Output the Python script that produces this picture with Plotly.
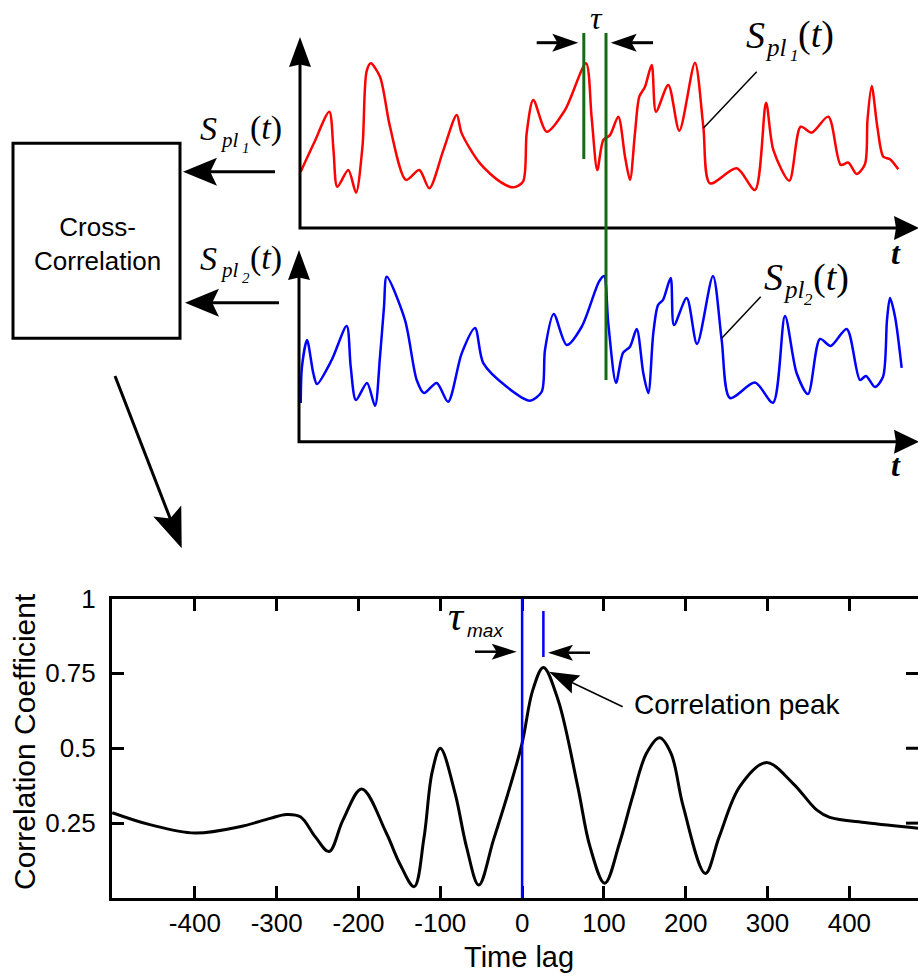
import math
import plotly.graph_objects as go

W, H = 918, 977

# ---- signal recorded at sensor 1 (red) ----
t1 = [0.12, 2.33, 4.88, 5.58, 6.22, 8.05, 9.33, 10.42, 11.08, 11.78, 13.33, 15.0, 17.67,
      19.88, 21.55, 23.9, 26.12, 26.95, 30.0, 33.33, 35.55, 37.17, 37.78, 38.88, 41.12,
      44.17, 47.67, 48.6, 49.55, 50.55, 51.67, 53.05, 54.17, 55.0, 55.83, 56.55, 57.5,
      58.62, 59.33, 61.38, 63.22, 65.83, 67.22, 68.33, 72.78, 75.83, 77.67, 78.9, 81.55,
      83.45, 85.28, 88.05, 90.12, 91.38, 92.78, 94.17, 94.58, 95.28, 96.22, 97.22, 98.33,
      99.72]
s1 = [2.96, 4.47, 6.12, 4.1, 2.17, 3.05, 1.86, 4.32, 8.21, 8.67, 7.96, 5.33, 2.53,
      3.05, 2.09, 4.1, 5.95, 4.98, 3.4, 2.44, 2.14, 2.44, 5.0, 6.74, 5.07,
      6.21, 8.67, 5.84, 3.05, 4.63, 4.89, 5.86, 3.75, 2.53, 5.0, 6.91, 7.44,
      8.58, 6.12, 7.53, 5.12, 8.7, 5.33, 2.35, 3.14, 2.0, 6.59, 4.1, 2.49,
      5.33, 5.02, 5.86, 3.32, 3.44, 2.84, 3.37, 5.68, 7.47, 5.33, 3.75, 3.62,
      3.09]

# ---- signal recorded at sensor 2 (blue) ----
t2 = [0.12, 0.33, 1.17, 2.22, 2.83, 5.28, 7.78, 8.45, 9.33, 11.17, 12.5, 13.33, 14.0,
      14.45, 17.5, 19.45, 20.67, 22.78, 24.67, 26.95, 29.17, 30.55, 34.45, 38.33, 40.28,
      40.83, 42.28, 44.45, 46.95, 49.83, 50.67, 51.38, 52.67, 53.83, 55.0, 56.12, 57.22,
      58.05, 58.88, 59.67, 60.5, 61.78, 62.33, 64.45, 66.17, 68.83, 70.28, 71.67, 75.83,
      78.83, 80.83, 82.78, 84.67, 86.67, 88.45, 91.12, 93.33, 94.33, 95.83, 97.17, 97.83,
      98.33, 99.17, 100.28]
s2 = [2.04, 3.95, 5.35, 3.6, 3.04, 4.3, 6.09, 3.95, 2.19, 3.09, 1.89, 4.47, 7.1,
      8.68, 6.4, 3.25, 2.56, 3.09, 2.1, 4.65, 5.98, 4.13, 2.89, 2.16, 2.63,
      4.83, 6.72, 5.09, 6.05, 8.42, 8.72, 6.23, 3.1, 4.67, 5.0, 5.93, 3.6,
      2.56, 5.7, 7.19, 7.46, 8.62, 6.14, 7.56, 5.14, 8.72, 5.35, 2.3, 3.11,
      2.05, 6.62, 3.6, 2.51, 5.41, 5.04, 5.93, 3.25, 3.46, 2.88, 3.42, 6.4,
      7.56, 6.58, 3.88]

# time instants marking the shift between the two signals
tau_marks = [47.3, 51.0]

# ---- cross-correlation coefficient versus time lag ----
lag = [-501, -455, -400, -345, -308, -288, -271, -253, -236, -219, -196, -166, -150,
       -132, -120, -110, -100, -82, -68, -53, -35, -15, 0, 13, 26, 44, 68, 83, 101,
       119, 135, 152, 168, 182, 197, 224, 241, 266, 298, 331, 360, 376, 421, 484]
corr = [0.285, 0.245, 0.217, 0.238, 0.266, 0.279, 0.271, 0.205, 0.155, 0.26, 0.364,
        0.217, 0.117, 0.038, 0.2, 0.42, 0.50, 0.35, 0.171, 0.043, 0.194, 0.37, 0.517,
        0.694, 0.770, 0.661, 0.372, 0.171, 0.049, 0.183, 0.338, 0.483, 0.535, 0.483,
        0.305, 0.082, 0.205, 0.372, 0.452, 0.383, 0.294, 0.269, 0.251, 0.233]

lag_ticks = [-400, -300, -200, -100, 0, 100, 200, 300, 400]
corr_ticks = [0.25, 0.5, 0.75, 1]
corr_tick_text = ["0.25", "0.5", "0.75", "1"]

peak_lag = lag[corr.index(max(corr))]

SANS = "Liberation Sans, Arial, sans-serif"
NARROW = "Liberation Sans Narrow, Arial Narrow, Liberation Sans, sans-serif"
SERIF = "Liberation Serif, Times New Roman, serif"


def X(px):
    return px / W


def Y(py):
    return 1 - py / H


def f(v):
    return f"{v:.5f}"


shapes = []
annotations = []


def seg(p0, p1, width=3, color="black"):
    shapes.append(dict(type="line", xref="paper", yref="paper",
                       x0=X(p0[0]), y0=Y(p0[1]), x1=X(p1[0]), y1=Y(p1[1]),
                       line=dict(color=color, width=width)))


def polyline(points, width=3, color="black"):
    d = "M " + " L ".join(f"{f(X(x))},{f(Y(y))}" for x, y in points)
    shapes.append(dict(type="path", xref="paper", yref="paper", path=d,
                       line=dict(color=color, width=width),
                       fillcolor="rgba(0,0,0,0)"))


def arrow(tail, tip, head_len, half_w, width=3, notch=0.15, color="black", draw_shaft=True):
    x0, y0 = tail
    x1, y1 = tip
    dx, dy = x1 - x0, y1 - y0
    n = math.hypot(dx, dy)
    ux, uy = dx / n, dy / n
    vx, vy = -uy, ux
    bx, by = x1 - ux * head_len, y1 - uy * head_len
    nx, ny = bx + ux * head_len * notch, by + uy * head_len * notch
    if draw_shaft:
        seg((x0, y0), (nx + ux * 2, ny + uy * 2), width=width, color=color)
    pts = [(x1, y1), (bx + vx * half_w, by + vy * half_w), (nx, ny),
           (bx - vx * half_w, by - vy * half_w)]
    d = "M " + " L ".join(f"{f(X(x))},{f(Y(y))}" for x, y in pts) + " Z"
    shapes.append(dict(type="path", xref="paper", yref="paper", path=d,
                       fillcolor=color, line=dict(width=0)))


def text(s, x, y, size, family=SANS, xanchor="center", yanchor="middle", angle=0,
         color="black"):
    annotations.append(dict(text=s, x=X(x), y=Y(y), xref="paper", yref="paper",
                            xanchor=xanchor, yanchor=yanchor, showarrow=False,
                            textangle=angle, borderpad=0,
                            font=dict(family=family, size=size, color=color)))


def sig_label(x_s, y_s, size, x_sub, y_sub, sub_size, x_idx, y_idx, idx_size, idx,
              x_par):
    text("<i>S</i>", x_s, y_s, size, SERIF, xanchor="left")
    text("<i>pl</i>", x_sub, y_sub, sub_size, SERIF, xanchor="left")
    text(f"<i>{idx}</i>", x_idx, y_idx, idx_size, SERIF, xanchor="left")
    text("(<i>t</i>)", x_par, y_s, size, SERIF, xanchor="left")


# ---- axes of the two signal panels ----
polyline([(300, 60), (300, 228), (898, 228)])
arrow((300, 228), (300, 37), 30, 11, notch=0.08, draw_shaft=False)
arrow((300, 228), (919, 228), 25, 12, notch=0.08, draw_shaft=False)
polyline([(299, 272), (299, 441.7), (898, 441.7)])
arrow((299, 441.7), (299, 250), 30, 11, notch=0.08, draw_shaft=False)
arrow((299, 441.7), (919, 441.7), 25, 12, notch=0.08, draw_shaft=False)

text("<b><i>t</i></b>", 896, 253, 32, SERIF)
text("<b><i>t</i></b>", 896, 465, 32, SERIF)

# shift markers between the signals
shapes.append(dict(type="line", xref="x2", yref="paper", x0=tau_marks[0], x1=tau_marks[0],
                   y0=Y(159), y1=Y(33), line=dict(color="#136b13", width=3)))
shapes.append(dict(type="line", xref="x2", yref="paper", x0=tau_marks[1], x1=tau_marks[1],
                   y0=Y(380), y1=Y(33), line=dict(color="#136b13", width=3)))
arrow((536.7, 42.7), (578.3, 42.7), 26, 9, width=3, notch=0.2)
arrow((653, 42.7), (610.7, 42.7), 26, 9, width=3, notch=0.2)
text("<i>τ</i>", 596, 18.5, 32, SERIF)

# signal labels with leader lines
sig_label(745, 35, 38, 764, 47, 25, 789, 55, 17, 1, 797)
seg((756.7, 71.7), (703.3, 128.3), width=1.5)
sig_label(763, 277, 38, 782, 290, 25, 803, 299, 17, 2, 812)
seg((760.7, 296.7), (721.7, 338.3), width=1.5)

# ---- cross-correlation block ----
shapes.append(dict(type="rect", xref="paper", yref="paper", x0=X(13), x1=X(180),
                   y0=Y(338.3), y1=Y(143.3), line=dict(color="black", width=3)))
text("Cross-<br>Correlation", 97, 244, 26, NARROW)
sig_label(199, 128, 34, 219, 140, 21, 241, 148, 15, 1, 249)
sig_label(199, 258, 34, 219, 270, 21, 241, 278, 15, 2, 249)
arrow((275, 171.7), (183, 171.7), 34, 14, width=3, notch=0.2)
arrow((279, 302.7), (185, 302.7), 34, 14, width=3, notch=0.2)
arrow((115, 376), (181.7, 548.3), 40, 15, width=3, notch=0.2)

# ---- correlation panel decorations ----
shapes.append(dict(type="line", xref="x", yref="y", x0=0, x1=0, y0=0, y1=1,
                   line=dict(color="#0000ff", width=2.5)))
shapes.append(dict(type="line", xref="x", yref="y", x0=peak_lag, x1=peak_lag,
                   y0=0.805, y1=0.958, line=dict(color="#0000ff", width=2.5)))
for v in corr_ticks[:3]:
    shapes.append(dict(type="line", xref="paper", yref="y", x0=X(906), x1=1, y0=v, y1=v,
                       line=dict(color="black", width=3)))
arrow((475, 651.7), (516.7, 651.7), 25, 8, width=2.5, notch=0.2)
arrow((590, 652.7), (548, 652.7), 25, 8, width=2.5, notch=0.2)
text("<i>τ</i>", 456, 616, 42, SERIF)
text("<i>max</i>", 466, 630, 19, SANS, xanchor="left")
arrow((622.7, 706.7), (549, 671.7), 30, 10, width=1.5, notch=0.15)
text("Correlation peak", 737, 704, 28, SANS)
text("Correlation Coefficient", 24, 742, 30, SANS, angle=-90)
text("Time lag", 519, 957, 29, SANS)

fig = go.Figure()
fig.add_trace(go.Scatter(x=lag, y=corr, mode="lines", xaxis="x", yaxis="y",
                         line=dict(color="black", width=3, shape="spline", smoothing=1.0),
                         hoverinfo="skip"))
fig.add_trace(go.Scatter(x=t1, y=s1, mode="lines", xaxis="x2", yaxis="y2",
                         line=dict(color="#ff0000", width=2.5, shape="spline", smoothing=0.8),
                         hoverinfo="skip"))
fig.add_trace(go.Scatter(x=t2, y=s2, mode="lines", xaxis="x3", yaxis="y3",
                         line=dict(color="#0000ff", width=2.5, shape="spline", smoothing=0.8),
                         hoverinfo="skip"))

fig.update_layout(
    template="none",
    width=W, height=H, margin=dict(l=0, r=0, t=0, b=0, pad=0, autoexpand=False),
    paper_bgcolor="white", plot_bgcolor="white", showlegend=False,
    xaxis=dict(domain=[X(112), 1], range=[-501.3, 483.9], anchor="y",
               showline=True, linecolor="black", linewidth=3, mirror="ticks",
               ticks="inside", ticklen=12, tickwidth=3, tickcolor="black",
               tickvals=lag_ticks, ticktext=[str(v) for v in lag_ticks],
               tickfont=dict(family=SANS, size=26, color="black"),
               ticklabelstandoff=0, showgrid=False, zeroline=False, automargin=False),
    yaxis=dict(domain=[Y(898), Y(598.5)], range=[0, 1], anchor="x",
               showline=True, linecolor="black", linewidth=3,
               ticks="inside", ticklen=12, tickwidth=3, tickcolor="black",
               tickvals=corr_ticks, ticktext=corr_tick_text,
               tickfont=dict(family=SANS, size=26, color="black"),
               ticklabelstandoff=8, showgrid=False, zeroline=False, automargin=False),
    xaxis2=dict(domain=[X(300), 1], range=[0, (W - 300) / 6], anchor="y2", visible=False),
    yaxis2=dict(domain=[Y(228), Y(38)], range=[0, 10], anchor="x2", visible=False),
    xaxis3=dict(domain=[X(300), 1], range=[0, (W - 300) / 6], anchor="y3", visible=False),
    yaxis3=dict(domain=[Y(441.7), Y(251.7)], range=[0, 10], anchor="x3", visible=False),
    shapes=shapes, annotations=annotations,
)

fig.write_html("out.html")
